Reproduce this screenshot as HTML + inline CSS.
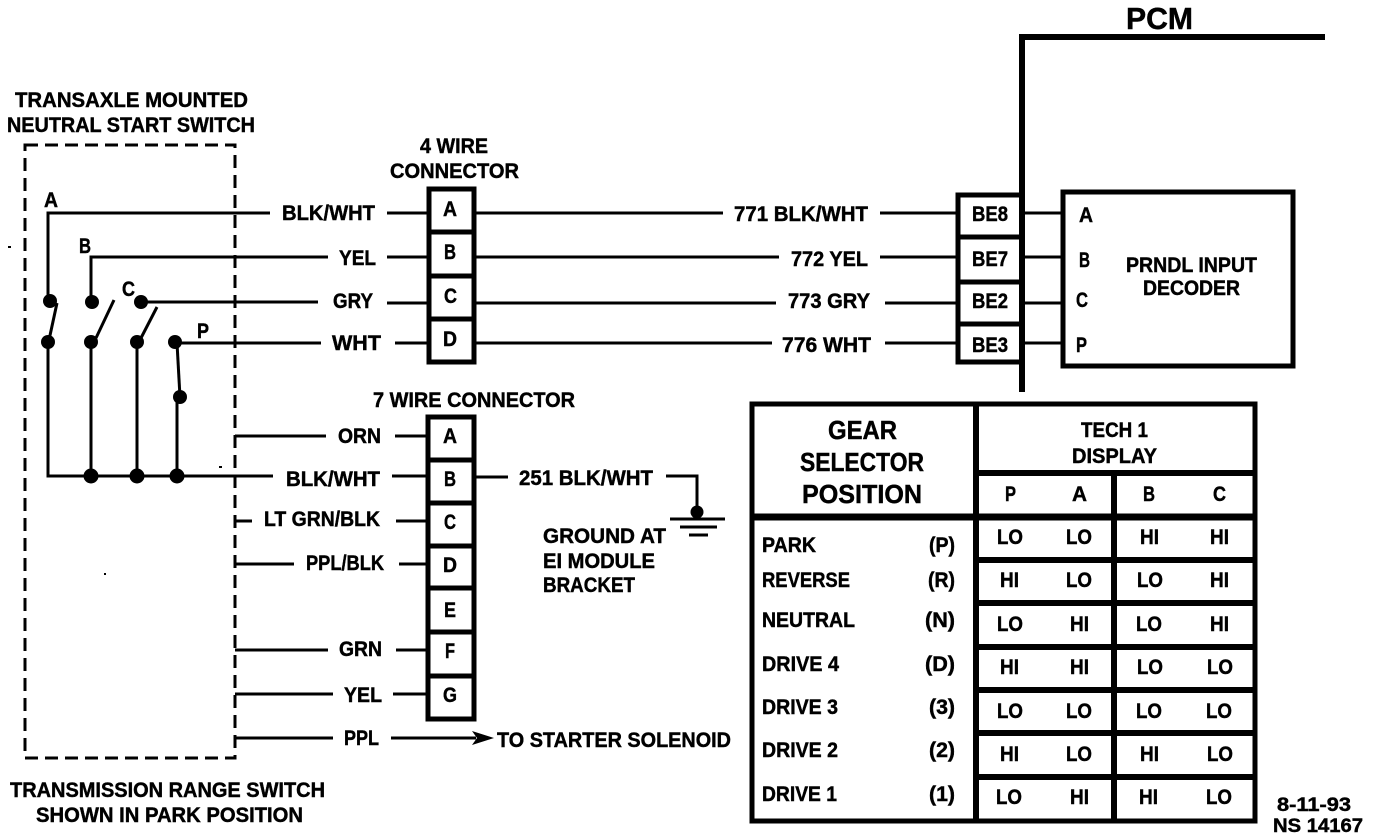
<!DOCTYPE html>
<html>
<head>
<meta charset="utf-8">
<style>
html,body{margin:0;padding:0;background:#fff}
svg{display:block}
text{font-family:"Liberation Sans",sans-serif;font-weight:bold;font-size:21px;fill:#000;stroke:#000;stroke-width:.45;lengthAdjust:spacingAndGlyphs}
.v{font-size:21px}
.l{stroke:#000;fill:none;stroke-width:3}
.h{stroke:#000;fill:none;stroke-width:5}
</style>
</head>
<body>
<svg width="1376" height="840" viewBox="0 0 1376 840" xmlns="http://www.w3.org/2000/svg">
<rect width="1376" height="840" fill="#fff"/>

<!-- Left titles -->
<text x="15" y="107" textLength="233" lengthAdjust="spacingAndGlyphs">TRANSAXLE MOUNTED</text>
<text x="7" y="132" textLength="248" lengthAdjust="spacingAndGlyphs">NEUTRAL START SWITCH</text>
<text x="10" y="797" textLength="315" lengthAdjust="spacingAndGlyphs">TRANSMISSION RANGE SWITCH</text>
<text x="36" y="822" textLength="267" lengthAdjust="spacingAndGlyphs">SHOWN IN PARK POSITION</text>

<!-- Dashed switch enclosure -->
<rect x="25" y="145" width="210" height="613" fill="none" stroke="#000" stroke-width="3" stroke-dasharray="13 7"/>

<!-- Switch internals -->
<g class="l">
<path class="l" d="M270 213H48V300"/>
<path class="l" d="M328 257H91V302"/>
<path class="l" d="M141 302H318"/>
<path class="l" d="M175 343H321"/>
<path class="l" d="M177 343L180 397"/>
<path class="l" d="M177 397V476"/>
<path class="l" d="M48 342V476H273"/>
<path class="l" d="M91 342V476"/>
<path class="l" d="M137 342V476"/>
<path class="l" d="M57 303L49 340"/>
<path class="l" d="M114 300L96 338"/>
<path class="l" d="M157 307L141 338"/>
</g>
<g fill="#000">
<circle cx="50" cy="301" r="7"/><circle cx="48" cy="342" r="7"/>
<circle cx="92" cy="302" r="7"/><circle cx="91" cy="342" r="7"/>
<circle cx="141" cy="302" r="7"/><circle cx="137" cy="342" r="7"/>
<circle cx="175" cy="342" r="7"/><circle cx="180" cy="397" r="7"/>
<circle cx="91" cy="476" r="7.5"/><circle cx="137" cy="476" r="7.5"/><circle cx="177" cy="476" r="7.5"/>
<rect x="8" y="246" width="3" height="2"/><rect x="219" y="466" width="3" height="2"/><rect x="104" y="573" width="2" height="2"/>
</g>
<text x="44" y="207" textLength="14" lengthAdjust="spacingAndGlyphs">A</text>
<text x="79" y="253" textLength="12" lengthAdjust="spacingAndGlyphs">B</text>
<text x="122" y="296" textLength="13" lengthAdjust="spacingAndGlyphs">C</text>
<text x="197" y="338" textLength="12" lengthAdjust="spacingAndGlyphs">P</text>

<!-- Wire labels left of the connectors -->
<text x="282" y="220" textLength="93" lengthAdjust="spacingAndGlyphs">BLK/WHT</text>
<text x="339" y="265" textLength="37" lengthAdjust="spacingAndGlyphs">YEL</text>
<text x="333" y="308" textLength="40" lengthAdjust="spacingAndGlyphs">GRY</text>
<text x="332" y="350" textLength="49" lengthAdjust="spacingAndGlyphs">WHT</text>
<text x="338" y="443" textLength="43" lengthAdjust="spacingAndGlyphs">ORN</text>
<text x="286" y="486" textLength="94" lengthAdjust="spacingAndGlyphs">BLK/WHT</text>
<text x="264" y="526" textLength="116" lengthAdjust="spacingAndGlyphs">LT GRN/BLK</text>
<text x="306" y="570" textLength="78" lengthAdjust="spacingAndGlyphs">PPL/BLK</text>
<text x="339" y="656" textLength="43" lengthAdjust="spacingAndGlyphs">GRN</text>
<text x="344" y="702" textLength="38" lengthAdjust="spacingAndGlyphs">YEL</text>
<text x="344" y="745" textLength="35" lengthAdjust="spacingAndGlyphs">PPL</text>

<!-- Wires -->
<path class="l" d="M387 213H428M387 257H428M387 303H428M395 343H428
M235 436H326M395 436H428M392 476H428
M235 521H252M396 521H428
M235 564H294M399 564H428
M235 650H328M396 650H428
M235 694H333M393 694H428
M235 738H333M391 738H476
M475 213H723M880 213H957
M475 257H779M880 257H957
M475 303H776M885 303H957
M475 343H772M885 343H957
M1022 213H1062M1022 257H1062M1022 303H1062M1022 343H1062
M475 477H508M666 476H697V510"/>
<path d="M472 731L494 738L472 745L477 738Z" fill="#000"/>
<text x="497" y="747" textLength="234" lengthAdjust="spacingAndGlyphs">TO STARTER SOLENOID</text>

<!-- 4 wire connector -->
<text x="420" y="153" textLength="68" lengthAdjust="spacingAndGlyphs">4 WIRE</text>
<text x="390" y="178" textLength="129" lengthAdjust="spacingAndGlyphs">CONNECTOR</text>
<rect x="429" y="189" width="45" height="173" fill="#fff" stroke="#000" stroke-width="5"/>
<path class="h" d="M427 232H476M427 276H476M427 319H476"/>
<text x="443" y="216" textLength="14" lengthAdjust="spacingAndGlyphs">A</text>
<text x="444" y="259" textLength="12" lengthAdjust="spacingAndGlyphs">B</text>
<text x="444" y="303" textLength="13" lengthAdjust="spacingAndGlyphs">C</text>
<text x="443" y="346" textLength="14" lengthAdjust="spacingAndGlyphs">D</text>

<!-- 7 wire connector -->
<text x="373" y="407" textLength="202" lengthAdjust="spacingAndGlyphs">7 WIRE CONNECTOR</text>
<rect x="428" y="417" width="46" height="302" fill="#fff" stroke="#000" stroke-width="5"/>
<path class="h" d="M426 460H476M426 503H476M426 546H476M426 588H476M426 632H476M426 676H476"/>
<text x="443" y="443" textLength="14" lengthAdjust="spacingAndGlyphs">A</text>
<text x="444" y="486" textLength="12" lengthAdjust="spacingAndGlyphs">B</text>
<text x="444" y="529" textLength="12" lengthAdjust="spacingAndGlyphs">C</text>
<text x="443" y="572" textLength="14" lengthAdjust="spacingAndGlyphs">D</text>
<text x="444" y="617" textLength="12" lengthAdjust="spacingAndGlyphs">E</text>
<text x="445" y="658" textLength="10" lengthAdjust="spacingAndGlyphs">F</text>
<text x="443" y="702" textLength="14" lengthAdjust="spacingAndGlyphs">G</text>

<!-- Middle labels -->
<text x="734" y="221" textLength="134" lengthAdjust="spacingAndGlyphs">771 BLK/WHT</text>
<text x="791" y="266" textLength="77" lengthAdjust="spacingAndGlyphs">772 YEL</text>
<text x="788" y="308" textLength="82" lengthAdjust="spacingAndGlyphs">773 GRY</text>
<text x="782" y="352" textLength="89" lengthAdjust="spacingAndGlyphs">776 WHT</text>

<!-- Ground -->
<text x="519" y="485" textLength="134" lengthAdjust="spacingAndGlyphs">251 BLK/WHT</text>
<circle cx="697" cy="512" r="6.5" fill="#000"/>
<path class="l" d="M670 519H725M680 527H717M689 535H708"/>
<text x="543" y="543" textLength="123" lengthAdjust="spacingAndGlyphs">GROUND AT</text>
<text x="543" y="568" textLength="112" lengthAdjust="spacingAndGlyphs">EI MODULE</text>
<text x="543" y="592" textLength="92" lengthAdjust="spacingAndGlyphs">BRACKET</text>

<!-- PCM -->
<text x="1126" y="29" textLength="67" lengthAdjust="spacingAndGlyphs" style="font-size:31px">PCM</text>
<path d="M1325 37H1022V392" fill="none" stroke="#000" stroke-width="6"/>

<!-- BE block -->
<rect x="958" y="195" width="64" height="167" fill="#fff" stroke="#000" stroke-width="5"/>
<path class="h" d="M956 237H1024M956 282H1024M956 324H1024"/>
<path d="M1022 190V366" stroke="#000" stroke-width="6" fill="none"/>
<text x="972" y="221" textLength="36" lengthAdjust="spacingAndGlyphs">BE8</text>
<text x="972" y="266" textLength="36" lengthAdjust="spacingAndGlyphs">BE7</text>
<text x="972" y="308" textLength="36" lengthAdjust="spacingAndGlyphs">BE2</text>
<text x="972" y="352" textLength="36" lengthAdjust="spacingAndGlyphs">BE3</text>

<!-- Decoder -->
<rect x="1063" y="192" width="230" height="174" fill="#fff" stroke="#000" stroke-width="5"/>
<text x="1079" y="222" textLength="14" lengthAdjust="spacingAndGlyphs">A</text>
<text x="1079" y="267" textLength="11" lengthAdjust="spacingAndGlyphs">B</text>
<text x="1076" y="307" textLength="12" lengthAdjust="spacingAndGlyphs">C</text>
<text x="1076" y="352" textLength="11" lengthAdjust="spacingAndGlyphs">P</text>
<text x="1126" y="272" textLength="131" lengthAdjust="spacingAndGlyphs">PRNDL INPUT</text>
<text x="1143" y="295" textLength="97" lengthAdjust="spacingAndGlyphs">DECODER</text>

<!-- Table -->
<rect x="752" y="404" width="503" height="417" fill="#fff" stroke="#000" stroke-width="5"/>
<path d="M976 404V821M1114 473V821" stroke="#000" stroke-width="6" fill="none"/>
<path d="M976 473H1255" stroke="#000" stroke-width="6" fill="none"/>
<path d="M752 517H1255" stroke="#000" stroke-width="7" fill="none"/>
<path d="M976 560H1255M976 603H1255M976 647H1255M976 690H1255M976 733H1255M976 777H1255" stroke="#000" stroke-width="6" fill="none"/>

<g style="font-size:26px">
<text x="828" y="439" textLength="69" lengthAdjust="spacingAndGlyphs" style="font-size:26px">GEAR</text>
<text x="800" y="471" textLength="124" lengthAdjust="spacingAndGlyphs" style="font-size:26px">SELECTOR</text>
<text x="802" y="503" textLength="120" lengthAdjust="spacingAndGlyphs" style="font-size:26px">POSITION</text>
</g>
<text x="1081" y="437" textLength="67" lengthAdjust="spacingAndGlyphs">TECH 1</text>
<text x="1072" y="463" textLength="85" lengthAdjust="spacingAndGlyphs">DISPLAY</text>
<text x="1005" y="501" textLength="11" lengthAdjust="spacingAndGlyphs">P</text>
<text x="1072" y="501" textLength="15" lengthAdjust="spacingAndGlyphs">A</text>
<text x="1143" y="501" textLength="12" lengthAdjust="spacingAndGlyphs">B</text>
<text x="1213" y="501" textLength="13" lengthAdjust="spacingAndGlyphs">C</text>

<text x="762" y="552" textLength="54" lengthAdjust="spacingAndGlyphs">PARK</text>
<text x="929" y="552" textLength="26" lengthAdjust="spacingAndGlyphs">(P)</text>
<text x="762" y="587" textLength="88" lengthAdjust="spacingAndGlyphs">REVERSE</text>
<text x="928" y="587" textLength="27" lengthAdjust="spacingAndGlyphs">(R)</text>
<text x="762" y="627" textLength="93" lengthAdjust="spacingAndGlyphs">NEUTRAL</text>
<text x="925" y="627" textLength="30" lengthAdjust="spacingAndGlyphs">(N)</text>
<text x="762" y="671" textLength="77" lengthAdjust="spacingAndGlyphs">DRIVE 4</text>
<text x="925" y="671" textLength="30" lengthAdjust="spacingAndGlyphs">(D)</text>
<text x="762" y="714" textLength="76" lengthAdjust="spacingAndGlyphs">DRIVE 3</text>
<text x="929" y="714" textLength="26" lengthAdjust="spacingAndGlyphs">(3)</text>
<text x="762" y="757" textLength="76" lengthAdjust="spacingAndGlyphs">DRIVE 2</text>
<text x="929" y="757" textLength="26" lengthAdjust="spacingAndGlyphs">(2)</text>
<text x="762" y="801" textLength="75" lengthAdjust="spacingAndGlyphs">DRIVE 1</text>
<text x="929" y="801" textLength="26" lengthAdjust="spacingAndGlyphs">(1)</text>

<!-- Values -->
<g>
<text x="997" y="544" textLength="26" lengthAdjust="spacingAndGlyphs">LO</text><text x="1066" y="544" textLength="26" lengthAdjust="spacingAndGlyphs">LO</text><text x="1140" y="544" textLength="19" lengthAdjust="spacingAndGlyphs">HI</text><text x="1210" y="544" textLength="19" lengthAdjust="spacingAndGlyphs">HI</text>
<text x="1000" y="587" textLength="19" lengthAdjust="spacingAndGlyphs">HI</text><text x="1066" y="587" textLength="26" lengthAdjust="spacingAndGlyphs">LO</text><text x="1137" y="587" textLength="26" lengthAdjust="spacingAndGlyphs">LO</text><text x="1210" y="587" textLength="19" lengthAdjust="spacingAndGlyphs">HI</text>
<text x="997" y="631" textLength="26" lengthAdjust="spacingAndGlyphs">LO</text><text x="1070" y="631" textLength="19" lengthAdjust="spacingAndGlyphs">HI</text><text x="1136" y="631" textLength="26" lengthAdjust="spacingAndGlyphs">LO</text><text x="1210" y="631" textLength="19" lengthAdjust="spacingAndGlyphs">HI</text>
<text x="1000" y="674" textLength="19" lengthAdjust="spacingAndGlyphs">HI</text><text x="1070" y="674" textLength="19" lengthAdjust="spacingAndGlyphs">HI</text><text x="1137" y="674" textLength="26" lengthAdjust="spacingAndGlyphs">LO</text><text x="1207" y="674" textLength="26" lengthAdjust="spacingAndGlyphs">LO</text>
<text x="997" y="718" textLength="26" lengthAdjust="spacingAndGlyphs">LO</text><text x="1066" y="718" textLength="26" lengthAdjust="spacingAndGlyphs">LO</text><text x="1136" y="718" textLength="26" lengthAdjust="spacingAndGlyphs">LO</text><text x="1206" y="718" textLength="26" lengthAdjust="spacingAndGlyphs">LO</text>
<text x="1000" y="761" textLength="19" lengthAdjust="spacingAndGlyphs">HI</text><text x="1066" y="761" textLength="26" lengthAdjust="spacingAndGlyphs">LO</text><text x="1140" y="761" textLength="19" lengthAdjust="spacingAndGlyphs">HI</text><text x="1207" y="761" textLength="26" lengthAdjust="spacingAndGlyphs">LO</text>
<text x="996" y="804" textLength="26" lengthAdjust="spacingAndGlyphs">LO</text><text x="1070" y="804" textLength="19" lengthAdjust="spacingAndGlyphs">HI</text><text x="1139" y="804" textLength="19" lengthAdjust="spacingAndGlyphs">HI</text><text x="1206" y="804" textLength="26" lengthAdjust="spacingAndGlyphs">LO</text>
</g>

<text x="1277" y="811" textLength="74" lengthAdjust="spacingAndGlyphs" style="font-size:19px">8-11-93</text>
<text x="1273" y="832" textLength="90" lengthAdjust="spacingAndGlyphs" style="font-size:19px">NS 14167</text>
</svg>
</body>
</html>
